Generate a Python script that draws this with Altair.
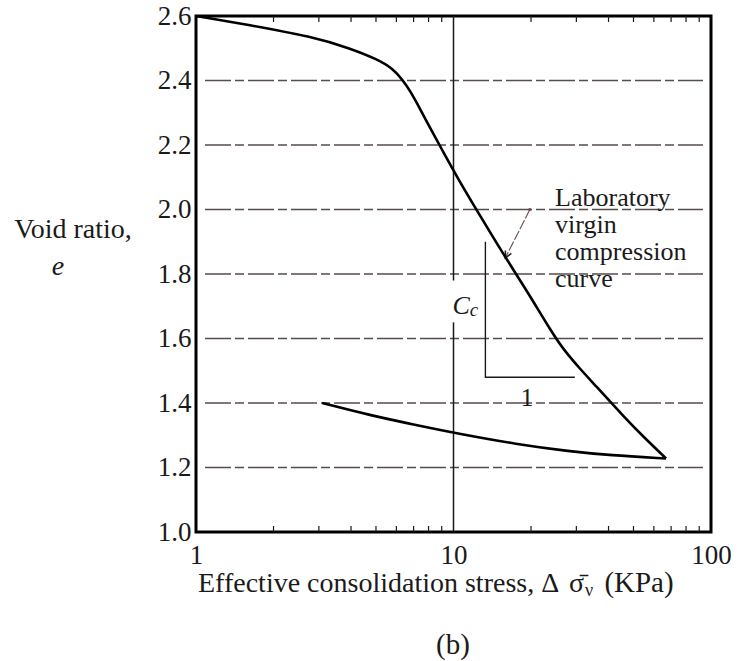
import altair as alt
import pandas as pd

FONT = "Liberation Serif"
INK = "#1a1a1a"
W, H = 515, 516

# Laboratory virgin compression curve (loading branch)
virgin_stress = [1.0, 1.62, 2.85, 3.96, 5.05, 5.82, 6.37, 6.78, 7.21, 7.89, 9.10, 10.5,
                 12.7, 15.6, 19.3, 24.3, 27.1, 31.0, 34.8, 47.2, 54.4, 66.9]
virgin_e = [2.60, 2.572, 2.535, 2.50, 2.466, 2.437, 2.40, 2.368, 2.33, 2.271, 2.18, 2.09,
            1.98, 1.862, 1.747, 1.614, 1.56, 1.506, 1.4625, 1.347, 1.297, 1.228]

# Unloading (rebound) branch
rebound_stress = [3.09, 4.74, 7.21, 10.4, 17.6, 28.3, 40.5, 66.9]
rebound_e = [1.40, 1.362, 1.331, 1.305, 1.272, 1.25, 1.238, 1.228]

# Axes
y_ticks = [1.0, 1.2, 1.4, 1.6, 1.8, 2.0, 2.2, 2.4, 2.6]
x_ticks = [1, 10, 100]
grid_e = [1.2, 1.4, 1.6, 1.8, 2.0, 2.2, 2.4]
minor_stress = [2, 3, 4, 5, 6, 7, 8, 9, 20, 30, 40, 50, 60, 70, 80, 90]

# Vertical reference line at 10 kPa, broken around the Cc label
ref_stress = 10
ref_segments_lo = [1.0, 1.78]
ref_segments_hi = [1.65, 2.6]

# Cc slope triangle (vertical leg then horizontal leg)
cc_stress = [13.3, 13.3, 29.6]
cc_e = [1.90, 1.48, 1.48]

# Leader arrow pointing to the virgin curve
arrow_from = (19.8, 2.00)
arrow_to = (15.9, 1.85)

xs = alt.Scale(type="log", domain=[1, 100])
ys = alt.Scale(domain=[1.0, 2.6], zero=False)

x_axis = alt.Axis(values=x_ticks, format="~g", ticks=False, domain=False, grid=False,
                  labelFont=FONT, labelFontSize=27, labelColor=INK, labelPadding=10,
                  labelFlush=False, labelOverlap=False, title=None)
y_axis = alt.Axis(values=y_ticks, format=".1f", ticks=False, domain=False, grid=False,
                  labelFont=FONT, labelFontSize=27, labelColor=INK, labelPadding=5,
                  labelOverlap=False, title=None)


def X(field):
    return alt.X(field, scale=xs, axis=x_axis)


def Y(field):
    return alt.Y(field, scale=ys, axis=y_axis)


curves = pd.DataFrame({
    "stress": virgin_stress + rebound_stress,
    "e": virgin_e + rebound_e,
    "branch": ["virgin"] * len(virgin_stress) + ["rebound"] * len(rebound_stress),
})

grid = alt.Chart(pd.DataFrame({"e": grid_e})).mark_rule(
    color="#3b2b2b", strokeWidth=1.3, strokeDash=[26, 4, 9, 4], opacity=0.85
).encode(y=Y("e:Q"), x=alt.value(9), x2=alt.value(W - 8))

ref_line = alt.Chart(pd.DataFrame({"x": [ref_stress] * 2, "lo": ref_segments_lo,
                                   "hi": ref_segments_hi})).mark_rule(
    color=INK, strokeWidth=1.5
).encode(x=X("x:Q"), y=Y("lo:Q"), y2="hi:Q")

minor = pd.DataFrame({"x": minor_stress})
ticks_bottom = alt.Chart(minor).mark_rule(color=INK, strokeWidth=1.2).encode(
    x=X("x:Q"), y=alt.value(H), y2=alt.value(H - 6))
ticks_top = alt.Chart(minor).mark_rule(color=INK, strokeWidth=1.2).encode(
    x=X("x:Q"), y=alt.value(0), y2=alt.value(6))

curve_lines = alt.Chart(curves).mark_line(
    color="black", strokeWidth=2.6, interpolate="basis"
).encode(x=X("stress:Q"), y=Y("e:Q"), detail="branch:N")

cc = alt.Chart(pd.DataFrame({"stress": cc_stress, "e": cc_e, "k": [0, 1, 2]})).mark_line(
    color=INK, strokeWidth=1.4
).encode(x=X("stress:Q"), y=Y("e:Q"), order="k:Q")

arrow_df = pd.DataFrame({"x": [arrow_from[0]], "y": [arrow_from[1]],
                         "x2": [arrow_to[0]], "y2": [arrow_to[1]]})
arrow_shaft = alt.Chart(arrow_df).mark_rule(
    color="#6a4a4a", strokeWidth=1.1, strokeDash=[10, 2]
).encode(x=X("x:Q"), y=Y("y:Q"), x2="x2:Q", y2="y2:Q")
arrow_head = alt.Chart(arrow_df).mark_point(
    shape="M-0.7,-1.4L0,0L0.7,-1.4", filled=False, color="#2a2020",
    strokeWidth=1.6, size=90, angle=27, opacity=1
).encode(x=X("x2:Q"), y=Y("y2:Q"))
arrow_tail = alt.Chart(arrow_df).mark_point(
    filled=True, color="#6a4a4a", size=10, opacity=1
).encode(x=X("x:Q"), y=Y("y:Q"))


def note(text, x, y, **kw):
    style = dict(font=FONT, fontSize=26, color=INK)
    style.update(kw)
    return alt.Chart(pd.DataFrame({"t": [text], "x": [x], "y": [y]})).mark_text(**style).encode(
        x=X("x:Q"), y=Y("y:Q"), text="t:N")


curve_label = alt.Chart(pd.DataFrame({"t": [["Laboratory", "virgin", "compression", "curve"]],
                                      "x": [24.8], "y": [2.012]})).mark_text(
    font=FONT, fontSize=26, color=INK, align="left", baseline="alphabetic", lineHeight=27
).encode(x=X("x:Q"), y=Y("y:Q"), text="t:N")

cc_C = note("C", 10.7, 1.70, fontStyle="italic", baseline="middle")
cc_c = note("c", 10.7, 1.70, fontStyle="italic", fontSize=19, dx=13, dy=4, baseline="middle")
one = note("1", 19.3, 1.415, baseline="middle")


def outside(text, px, py, **kw):
    style = dict(font=FONT, fontSize=28, color=INK, baseline="middle")
    style.update(kw)
    return alt.Chart(pd.DataFrame({"t": [text]})).mark_text(**style).encode(
        x=alt.value(px), y=alt.value(py), text="t:N")


y_title = outside("Void ratio,", -123, 214)
y_symbol = outside("e", -138, 251, fontStyle="italic")

# x-axis title assembled piecewise: text, sigma with overbar, subscript nu, units
x_title_main = outside("Effective consolidation stress,  \u0394", 2, 576,
                       align="left", baseline="alphabetic")
x_title_sigma = outside("\u03c3\u0304", 373, 576, align="left", baseline="alphabetic")
x_title_sub = outside("\u03bd", 389, 580, align="left", baseline="alphabetic", fontSize=18)
x_title_units = outside("(KPa)", 443, 576, align="center", baseline="alphabetic", fontSize=29)
panel = outside("(b)", 257, 629, fontSize=29)

chart = alt.layer(
    grid, ref_line, ticks_bottom, ticks_top, cc, arrow_shaft, arrow_head, arrow_tail,
    curve_lines, curve_label, cc_C, cc_c, one, y_title, y_symbol,
    x_title_main, x_title_sigma, x_title_sub, x_title_units, panel,
).properties(
    width=W, height=H,
    autosize=alt.AutoSizeParams(type="none"),
    padding={"left": 196, "top": 16, "right": 31, "bottom": 129},
    background="white",
).configure_view(stroke="black", strokeWidth=3)

chart.save("out.html", embed_options={"renderer": "svg", "actions": False})
